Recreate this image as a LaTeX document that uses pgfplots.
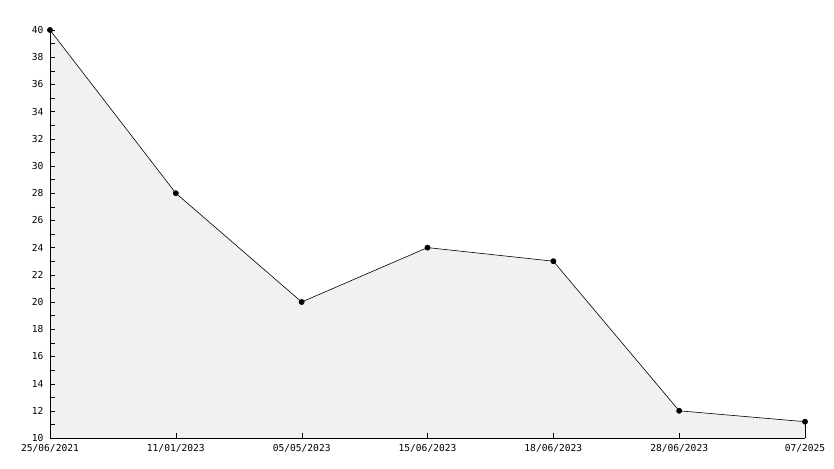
\documentclass[border=0pt]{standalone}
\usepackage{pgfplots}
\pgfplotsset{compat=1.18}
\usepackage{fontspec}
\setmainfont{DejaVu Sans Mono}
\definecolor{fillgray}{HTML}{F1F1F1}
\definecolor{gridgray}{HTML}{DCDCDC}
\pgfplotsset{base/.style={
  at={(50pt,30pt)}, anchor=south west,
  scale only axis, width=755pt, height=408pt,
  xmin=0, xmax=6, ymin=10, ymax=40,
  clip=false,
}}
\begin{document}
\begin{tikzpicture}
\path[use as bounding box] (0,0) rectangle (834pt,468pt);
\begin{axis}[
  base,
  axis lines=none,
  xtick=\empty,
  ytick={10,12,...,40}, yticklabels={},
  ymajorgrids, major grid style={gridgray},
  major tick length=0pt,
]
\addplot[fill=fillgray, draw=none] coordinates {(0,40) (1,28) (2,20) (3,24) (4,23) (5,12) (6,11.2)} \closedcycle;
\addplot[black, line width=0.6pt, mark=*, mark size=2.6pt] coordinates {(0,40) (1,28) (2,20) (3,24) (4,23) (5,12) (6,11.2)};
\draw[black] (axis cs:6,11.2) -- (axis cs:6,10);
\end{axis}
\begin{axis}[
  base,
  axis x line=bottom, axis y line=left,
  axis line style={-, black},
  xtick={0,1,2,3,4,5,6},
  xticklabels={25/06/2021,11/01/2023,05/05/2023,15/06/2023,18/06/2023,28/06/2023,07/2025},
  ytick={10,12,...,40},
  minor y tick num=1,
  tick align=inside,
  major tick length=5pt, minor tick length=5pt,
  tick style={black},
  tick label style={font=\fontsize{9.6}{11}\selectfont},
  /pgf/number format/assume math mode=true,
  yticklabel style={xshift=-3pt},
  xticklabel style={yshift=-3pt},
]
\end{axis}
\end{tikzpicture}
\end{document}
